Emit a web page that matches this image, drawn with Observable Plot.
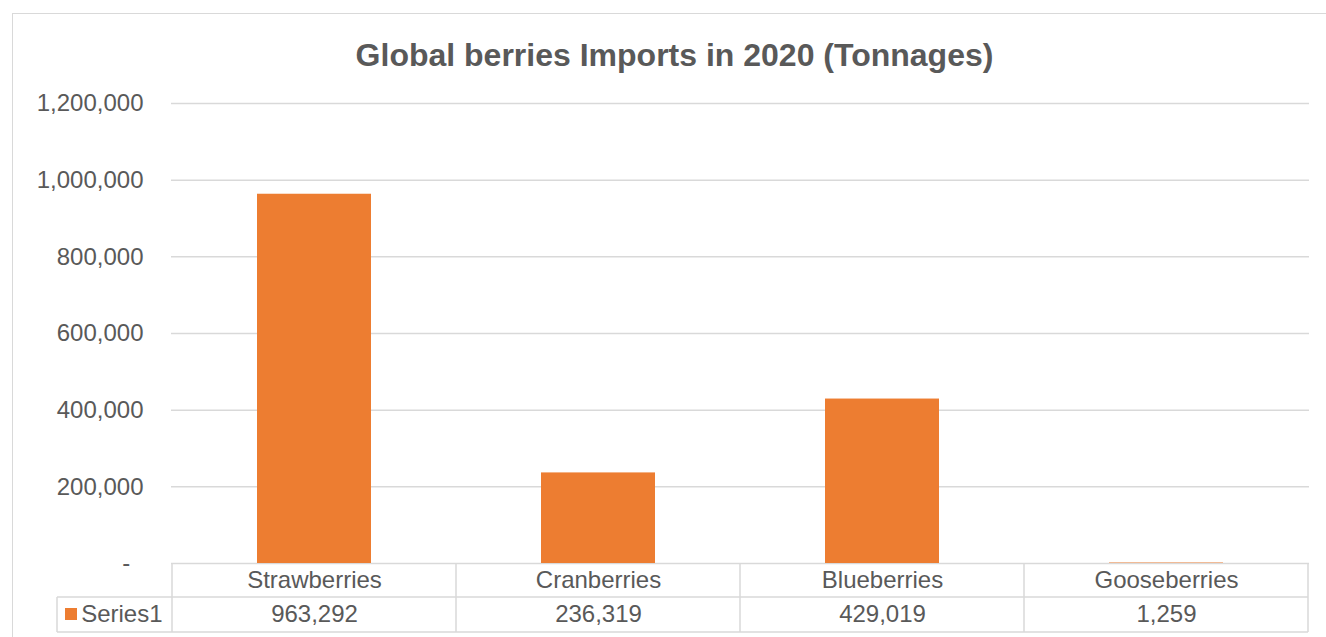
<!DOCTYPE html>
<html>
<head>
<meta charset="utf-8">
<script src="https://cdn.jsdelivr.net/npm/d3@7"></script>
<script src="https://cdn.jsdelivr.net/npm/@observablehq/plot@0.6"></script>
<style>
  html, body { margin: 0; padding: 0; background: #fff; }
  #wrap { position: relative; width: 1326px; height: 637px; overflow: hidden; font-family: "Liberation Sans", Arial, sans-serif; }
  #border { position: absolute; left: 12px; top: 13px; width: 1320px; height: 660px; border: 1.5px solid #d9d9d9; box-sizing: border-box; }
  #title { position: absolute; left: 18px; width: 1313px; top: 36px; text-align: center; font-weight: bold; font-size: 32px; color: #595959; line-height: 38px; }
  #chart { position: absolute; left: 0; top: 0; }
</style>
</head>
<body>
<div id="wrap">
  <div id="border"></div>
  <div id="title">Global berries Imports in 2020 (Tonnages)</div>
  <div id="chart"></div>
</div>
<script>
const categories = ["Strawberries", "Cranberries", "Blueberries", "Gooseberries"];
const values = [963292, 236319, 429019, 1259];
const seriesName = "Series1";
const yTicks = [0, 200000, 400000, 600000, 800000, 1000000, 1200000];

const data = categories.map((c, i) => ({category: c, value: values[i]}));
const fmt = d3.format(",");
const textColor = "#595959";
const lineColor = "#d9d9d9";

const plot = Plot.plot({
  width: 1326,
  height: 637,
  marginLeft: 171,
  marginRight: 17,
  marginTop: 103,
  marginBottom: 74,
  style: {fontFamily: "'Liberation Sans', Arial, sans-serif", fontSize: "24px", color: textColor, background: "transparent", overflow: "visible"},
  x: {domain: categories, padding: 0, axis: null},
  y: {domain: [0, 1200000], axis: null},
  marks: [
    Plot.gridY(yTicks, {stroke: lineColor, strokeOpacity: 1, strokeWidth: 1.5}),
    Plot.axisY(yTicks, {label: null, tickSize: 0, tickPadding: 28, fill: textColor, tickFormat: d => d === 0 ? "-\u2007" : fmt(d)}),
    Plot.barY(data, {x: "category", y: "value", fill: "#ED7D31", insetLeft: 85, insetRight: 85}),
    Plot.text(categories, {x: d => d, frameAnchor: "bottom", lineAnchor: "middle", dy: 17, fill: textColor}),
    Plot.text(data, {x: "category", text: d => fmt(d.value), frameAnchor: "bottom", lineAnchor: "middle", dy: 51, fill: textColor}),
    Plot.text([seriesName], {text: d => d, frameAnchor: "bottom-left", lineAnchor: "middle", dx: -9, dy: 51, textAnchor: "end", fill: textColor})
  ]
});

// data table grid, positioned with the chart's own scales
const xs = plot.scale("x");
const ys = plot.scale("y");
const y0 = ys.apply(0);
const row1 = y0 + 34;
const row2 = y0 + 69;
const bw = xs.bandwidth;
const edges = categories.map(c => xs.apply(c));
edges.push(xs.apply(categories[categories.length - 1]) + bw);
const tableLeft = 57;
const svg = d3.select(plot);
const g = svg.append("g").attr("stroke", lineColor).attr("stroke-width", 1.5);
edges.forEach(x => g.append("line").attr("x1", x).attr("x2", x).attr("y1", y0).attr("y2", row2));
g.append("line").attr("x1", tableLeft).attr("x2", tableLeft).attr("y1", row1).attr("y2", row2);
g.append("line").attr("x1", tableLeft).attr("x2", edges[edges.length - 1]).attr("y1", row1).attr("y2", row1);
g.append("line").attr("x1", tableLeft).attr("x2", edges[edges.length - 1]).attr("y1", row2).attr("y2", row2);
// legend key
svg.append("rect").attr("x", 65).attr("y", (row1 + row2) / 2 - 6.5).attr("width", 12).attr("height", 12).attr("fill", "#ED7D31");

document.getElementById("chart").appendChild(plot);
</script>
</body>
</html>
